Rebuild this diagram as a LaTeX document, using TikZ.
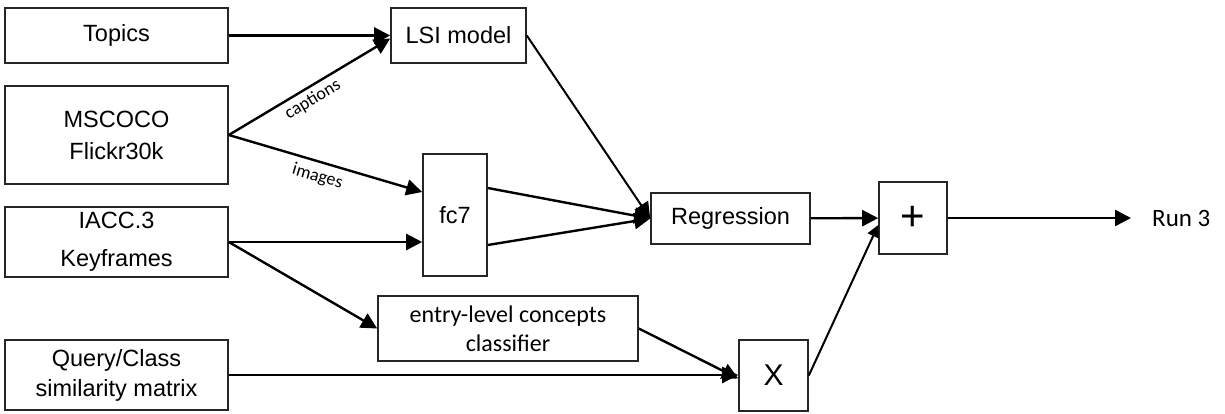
\documentclass[tikz,border=0pt]{standalone}
\usepackage{fontspec}
\setmainfont{Liberation Sans}
\newfontfamily\calfont{Carlito}
\usetikzlibrary{arrows.meta,calc}
\begin{document}
\begin{tikzpicture}[x=1pt,y=-1pt,
  box/.style={draw=black!85, line width=1.6pt, inner sep=0pt, align=center, font=\fontsize{23.5}{30}\selectfont},
  calbox/.style={box, font=\calfont\fontsize{24}{29}\selectfont},
  arr/.style={line width=2.4pt, -{Triangle[length=16pt,width=16pt]}},
  thinarr/.style={line width=2pt, -{Triangle[length=16pt,width=16pt]}},
  smallarr/.style={line width=2pt, -{Triangle[length=12pt,width=12pt]}},
  lbl/.style={font=\calfont\fontsize{18}{20}\selectfont, inner sep=4pt}]
\useasboundingbox (0,0) rectangle (1225,413);
% nodes
\node[box, minimum width=223pt, minimum height=55pt] (topics) at (116.5,35.5) {Topics};
\node[box, minimum width=223pt, minimum height=98pt] (mscoco) at (116.5,135) {MSCOCO\\[2pt]Flickr30k};
\node[box, minimum width=223pt, minimum height=70pt] (iacc) at (116.5,242) {IACC.3\\[8pt]Keyframes};
\node[box, minimum width=223pt, minimum height=70pt] (query) at (116.5,375) {Query/Class\\similarity matrix};
\node[box, minimum width=135pt, minimum height=55pt] (lsi) at (458.5,35.5) {LSI model};
\node[box, minimum width=64pt, minimum height=122pt] (fc7) at (455,215) {fc7};
\node[box, minimum width=159pt, minimum height=51pt] (reg) at (730.5,218.5) {Regression};
\node[calbox, minimum width=260pt, minimum height=65pt] (entry) at (508,328.5) {entry-level concepts\\classifier};
\node[box, font=\fontsize{30}{32}\selectfont, minimum width=69pt, minimum height=71pt] (xx) at (773.5,375.5) {\raisebox{-5pt}{X}};
\node[box, font=\fontsize{42}{44}\selectfont, minimum width=68pt, minimum height=72pt] (plus) at (913,218) {+};
\node[font=\calfont\fontsize{25}{30}\selectfont, inner sep=0pt, anchor=west] (run) at (1152,218) {Run 3};
% connectors
\draw[arr] (topics) -- (lsi);
\draw[arr] (mscoco.east) -- ([yshift=-3pt]lsi.west) node[lbl, pos=0.48, below, sloped] {captions};
\draw[arr] (mscoco.east) -- ([yshift=23pt]fc7.west) node[lbl, inner sep=6pt, pos=0.48, below, sloped] {images};
\draw[arr] (iacc.east) -- (iacc.east -| fc7.west);
\draw[arr] (iacc.east) -- (entry.west);
\draw[thinarr] (lsi.east) -- (reg.west);
\draw[arr] ([yshift=27pt]fc7.east) -- (reg.west);
\draw[arr] ([yshift=-30pt]fc7.east) -- (reg.west);
\draw[arr] (reg) -- (plus);
\draw[arr, shorten >=21pt] (plus) -- (run);
\draw[arr] (query.east) -- (query.east -| xx.west);
\draw[arr] (entry.east) -- ([yshift=-3pt]xx.west);
\draw[smallarr] (xx.east) -- ([yshift=-7pt]plus.west);
\end{tikzpicture}
\end{document}
